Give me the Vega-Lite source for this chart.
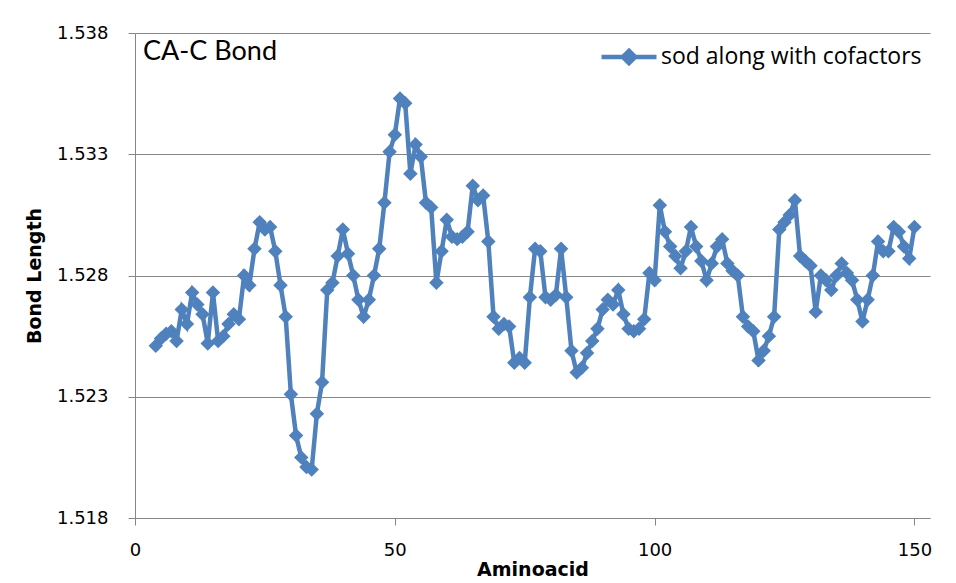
{
  "$schema": "https://vega.github.io/schema/vega-lite/v6.json",
  "width": 795,
  "height": 485,
  "autosize": {"type": "none"},
  "padding": {"left": 135, "top": 33, "right": 26, "bottom": 65},
  "background": "white",
  "title": {"text": "CA-C Bond", "anchor": "start", "frame": "group", "offset": -42, "dx": 8, "font": "Lato", "fontSize": 27, "fontWeight": "normal", "color": "#000000"},
  "config": {
    "view": {"stroke": null},
    "axis": {"domainColor": "#868686", "tickColor": "#868686", "gridColor": "#868686", "labelColor": "#000000", "titleColor": "#000000", "labelFont": "DejaVu Sans", "titleFont": "DejaVu Sans"}
  },
  "data": {"values": [
    {"x":4,"y":1.5251},{"x":5,"y":1.5254},{"x":6,"y":1.5256},{"x":7,"y":1.5257},{"x":8,"y":1.5253},{"x":9,"y":1.5266},{"x":10,"y":1.5260},{"x":11,"y":1.5273},{"x":12,"y":1.5268},{"x":13,"y":1.5264},{"x":14,"y":1.5252},{"x":15,"y":1.5273},{"x":16,"y":1.5253},{"x":17,"y":1.5255},{"x":18,"y":1.5260},{"x":19,"y":1.5264},{"x":20,"y":1.5262},{"x":21,"y":1.5280},{"x":22,"y":1.5276},{"x":23,"y":1.5291},{"x":24,"y":1.5302},{"x":25,"y":1.5299},{"x":26,"y":1.5300},{"x":27,"y":1.5290},{"x":28,"y":1.5276},{"x":29,"y":1.5263},{"x":30,"y":1.5231},{"x":31,"y":1.5214},{"x":32,"y":1.5205},{"x":33,"y":1.5201},{"x":34,"y":1.5200},
    {"x":35,"y":1.5223},{"x":36,"y":1.5236},{"x":37,"y":1.5274},{"x":38,"y":1.5277},{"x":39,"y":1.5288},{"x":40,"y":1.5299},{"x":41,"y":1.5289},{"x":42,"y":1.5280},{"x":43,"y":1.5270},{"x":44,"y":1.5263},{"x":45,"y":1.5270},{"x":46,"y":1.5280},{"x":47,"y":1.5291},{"x":48,"y":1.5310},{"x":49,"y":1.5331},{"x":50,"y":1.5338},{"x":51,"y":1.5353},{"x":52,"y":1.5351},{"x":53,"y":1.5322},{"x":54,"y":1.5334},{"x":55,"y":1.5329},{"x":56,"y":1.5310},{"x":57,"y":1.5308},{"x":58,"y":1.5277},{"x":59,"y":1.5290},{"x":60,"y":1.5303},{"x":61,"y":1.5296},{"x":62,"y":1.5295},{"x":63,"y":1.5296},{"x":64,"y":1.5298},
    {"x":65,"y":1.5317},{"x":66,"y":1.5311},{"x":67,"y":1.5313},{"x":68,"y":1.5294},{"x":69,"y":1.5263},{"x":70,"y":1.5258},{"x":71,"y":1.5260},{"x":72,"y":1.5259},{"x":73,"y":1.5244},{"x":74,"y":1.5246},{"x":75,"y":1.5244},{"x":76,"y":1.5271},{"x":77,"y":1.5291},{"x":78,"y":1.5290},{"x":79,"y":1.5271},{"x":80,"y":1.5270},{"x":81,"y":1.5272},{"x":82,"y":1.5291},{"x":83,"y":1.5271},{"x":84,"y":1.5249},{"x":85,"y":1.5240},{"x":86,"y":1.5242},{"x":87,"y":1.5248},{"x":88,"y":1.5253},{"x":89,"y":1.5258},{"x":90,"y":1.5266},{"x":91,"y":1.5270},{"x":92,"y":1.5268},{"x":93,"y":1.5274},{"x":94,"y":1.5264},{"x":95,"y":1.5258},{"x":96,"y":1.5257},{"x":97,"y":1.5258},{"x":98,"y":1.5262},{"x":99,"y":1.5281},{"x":100,"y":1.5278},
    {"x":101,"y":1.5309},{"x":102,"y":1.5298},{"x":103,"y":1.5292},{"x":104,"y":1.5288},{"x":105,"y":1.5283},{"x":106,"y":1.5290},{"x":107,"y":1.5300},{"x":108,"y":1.5292},{"x":109,"y":1.5286},{"x":110,"y":1.5278},{"x":111,"y":1.5285},{"x":112,"y":1.5292},{"x":113,"y":1.5295},{"x":114,"y":1.5285},{"x":115,"y":1.5282},{"x":116,"y":1.5280},{"x":117,"y":1.5263},{"x":118,"y":1.5259},{"x":119,"y":1.5257},{"x":120,"y":1.5245},{"x":121,"y":1.5249},{"x":122,"y":1.5255},{"x":123,"y":1.5263},{"x":124,"y":1.5299},{"x":125,"y":1.5302},{"x":126,"y":1.5305},
    {"x":127,"y":1.5311},{"x":128,"y":1.5288},{"x":129,"y":1.5286},{"x":130,"y":1.5284},{"x":131,"y":1.5265},{"x":132,"y":1.5280},{"x":133,"y":1.5278},{"x":134,"y":1.5274},{"x":135,"y":1.5280},{"x":136,"y":1.5285},{"x":137,"y":1.5281},{"x":138,"y":1.5278},{"x":139,"y":1.5270},{"x":140,"y":1.5261},{"x":141,"y":1.5270},{"x":142,"y":1.5280},{"x":143,"y":1.5294},{"x":144,"y":1.5290},{"x":145,"y":1.5290},{"x":146,"y":1.5300},{"x":147,"y":1.5298},{"x":148,"y":1.5292},{"x":149,"y":1.5287},{"x":150,"y":1.5300}
  ]},
  "transform": [{"calculate": "'sod along with cofactors'", "as": "series"}],
  "mark": {"type": "line", "strokeWidth": 4.5, "point": {"shape": "diamond", "size": 210, "filled": true, "opacity": 1}},
  "encoding": {
    "x": {"field": "x", "type": "quantitative", "scale": {"domain": [0, 153], "nice": false, "zero": false},
      "axis": {"title": "Aminoacid", "values": [0, 50, 100, 150], "grid": false, "tickSize": 7, "labelPadding": 16, "labelFontSize": 18, "titleFontSize": 19, "titleFontWeight": "bold", "titlePadding": 1, "labelFlush": false}},
    "y": {"field": "y", "type": "quantitative", "scale": {"domain": [1.518, 1.538], "nice": false, "zero": false},
      "axis": {"title": "Bond Length", "values": [1.518, 1.523, 1.528, 1.533, 1.538], "format": ".3f", "grid": true, "tickSize": 7, "labelPadding": 20, "labelFontSize": 18, "titleFontSize": 19, "titleFontWeight": "bold", "titlePadding": 12}},
    "color": {"field": "series", "type": "nominal", "scale": {"range": ["#4F81BD"]},
      "legend": {"title": null, "orient": "top-right", "offset": 8, "padding": 0, "labelFont": "Open Sans", "labelFontSize": 23, "labelLimit": 400, "labelColor": "#000000", "symbolType": "M-2,0H2M0,-0.45L0.45,0L0,0.45L-0.45,0Z", "symbolSize": 756, "symbolStrokeWidth": 4.5, "labelOffset": 16}}
  }
}
